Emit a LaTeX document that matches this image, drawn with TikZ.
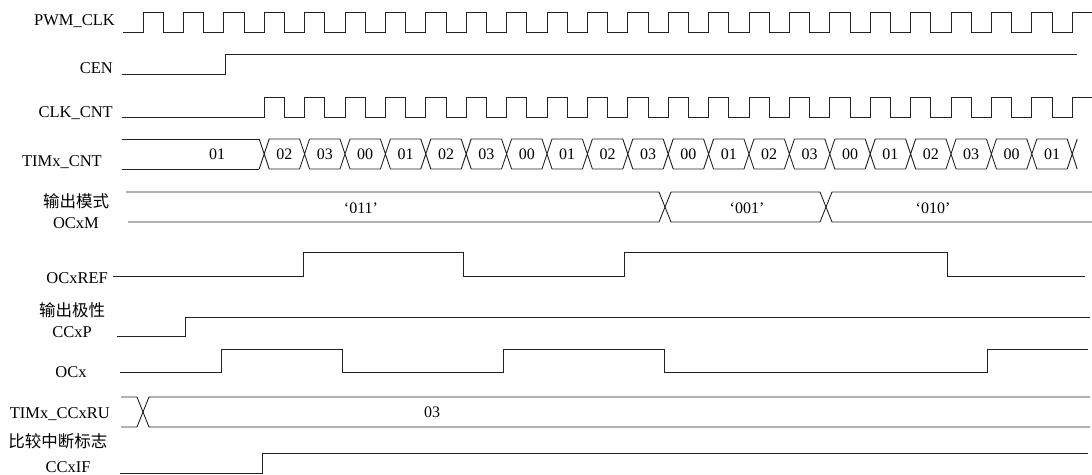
\documentclass[tikz,border=0pt]{standalone}
\usepackage{fontspec}
\setmainfont{Liberation Serif}
\newfontfamily\cjk{Noto Sans CJK SC}
\definecolor{wave}{HTML}{222222}

\begin{document}
\begin{tikzpicture}[x=1pt, y=-1pt,
  sig/.style={line width=0.9pt, wave},
  lbl/.style={font=\fontsize{16.5}{19}\selectfont, text=black,
    inner sep=0pt, text height=11pt, text depth=0pt},
  val/.style={font=\fontsize{16}{19}\selectfont, text=black,
    inner sep=0pt, text height=11pt, text depth=0pt},
]

\useasboundingbox (0,0) rectangle (1092,474);

% =============================================
% Clocks and enable
% =============================================
\node[lbl, anchor=east] (pwm) at (115,20) {PWM\_CLK};
\draw[sig] (123,32) foreach \k in {0,...,22} {
    -- ({143+40.4*\k},32) -- ++(0,-20) -- ++(20.2,0) -- ++(0,20) }
  -- (1072,32) -- (1072,12) -- (1092,12);

\node[lbl, anchor=east] (cen) at (113,68) {CEN};
\draw[sig] (122,74) -- (225,74) -- (225,54) -- (1077,54);

\node[lbl, anchor=east] (clkcnt) at (113,112) {CLK\_CNT};
\draw[sig] (122,117) foreach \k in {3,...,22} {
    -- ({143+40.4*\k},117) -- ++(0,-20) -- ++(20.2,0) -- ++(0,20) }
  -- (1072,117) -- (1072,97) -- (1092,97);

% =============================================
% Counter bus
% =============================================
\node[lbl, anchor=east] (cnt) at (102,161) {TIMx\_CNT};
\draw[sig] (122,139) -- (259.2,139) (122,169) -- (259.2,169);
\node[val] (cntfirst) at (217,154) {01};
\foreach \v [count=\j from 0] in {02,03,00,01,02,03,00,01,02,03,00,01,02,03,00,01,02,03,00,01} {
  \pgfmathsetmacro\t{264.2+40.4*\j}
  \draw[sig] (\t-5,139) -- (\t+5,169) (\t-5,169) -- (\t+5,139)
    (\t+5,139) -- (\t+35.4,139) (\t+5,169) -- (\t+35.4,169);
  \node[val] (cnt\j) at (\t+20.2,154) {\v};
}
\draw[sig] (1067.2,139) -- (1077.2,169) (1067.2,169) -- (1077.2,139);

% =============================================
% Output mode
% =============================================
\node[lbl] (ocxmcn) at (76,202) {\cjk 输出模式};
\node[lbl] (ocxm) at (76,223) {OCxM};
\draw[sig] (126,192) -- (659,192) -- (671,222) -- (820,222) -- (832,192) -- (1092,192);
\draw[sig] (128,222) -- (659,222) -- (671,192) -- (820,192) -- (832,222) -- (1092,222);
\node[val] (mode1) at (361,208) {‘011’};
\node[val] (mode2) at (747,208) {‘001’};
\node[val] (mode3) at (933,208) {‘010’};

% =============================================
% Reference and polarity
% =============================================
\node[lbl, anchor=east] (ocxref) at (108,278) {OCxREF};
\draw[sig] (113,276) -- (303,276) -- (303,252) -- (463,252) -- (463,276)
  -- (624,276) -- (624,252) -- (947,252) -- (947,276) -- (1085,276);

\node[lbl] (ccxpcn) at (72,311) {\cjk 输出极性};
\node[lbl] (ccxp) at (72,332) {CCxP};
\draw[sig] (117,336) -- (185,336) -- (185,317) -- (1090,317);

\node[lbl] (ocx) at (71,372) {OCx};
\draw[sig] (120,372) -- (221,372) -- (221,349) -- (342,349) -- (342,372)
  -- (503,372) -- (503,349) -- (664,349) -- (664,372) -- (987,372)
  -- (987,349) -- (1088,349);

% =============================================
% Compare register and flag
% =============================================
\node[lbl, anchor=east] (ccxru) at (110,413) {TIMx\_CCxRU};
\draw[sig] (121,397) -- (137,397) -- (149,427) -- (1090,427);
\draw[sig] (121,427) -- (137,427) -- (149,397) -- (1090,397);
\node[val] (ccrval) at (432,412) {03};

\node[lbl] (ccxifcn) at (58,442) {\cjk 比较中断标志};
\node[lbl] (ccxif) at (68,467) {CCxIF};
\draw[sig] (120,473) -- (262,473) -- (262,453) -- (1088,453);

\end{tikzpicture}
\end{document}
